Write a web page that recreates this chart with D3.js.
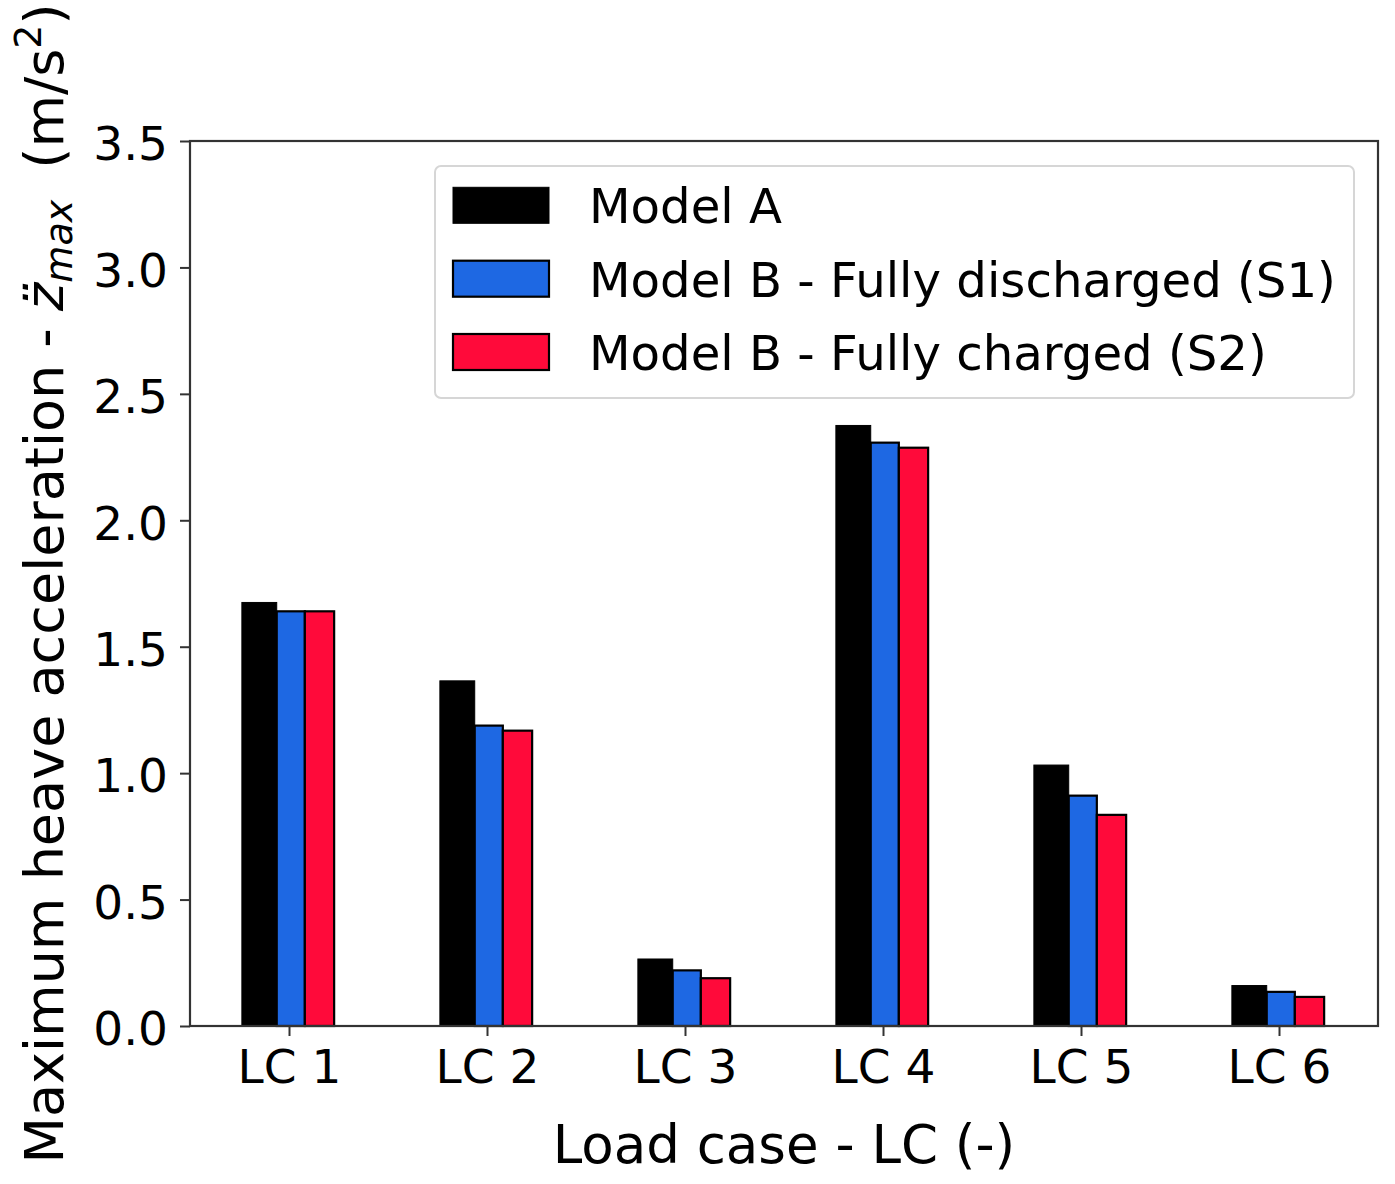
<!DOCTYPE html>
<html>
<head>
<meta charset="utf-8">
<script src="https://cdn.jsdelivr.net/npm/d3@7"></script>
<style>
  html, body { margin: 0; padding: 0; background: #fff; }
  svg { display: block; }
  text { font-family: "DejaVu Sans", sans-serif; fill: #000; }
</style>
</head>
<body>
<svg id="chart" width="1395" height="1184"></svg>
<script>
// ---- data ----
const categories = ["LC 1", "LC 2", "LC 3", "LC 4", "LC 5", "LC 6"];
const seriesNames = ["Model A", "Model B - Fully discharged (S1)", "Model B - Fully charged (S2)"];
const modelA = [1.675, 1.365, 0.265, 2.375, 1.032, 0.160];
const modelB_S1 = [1.640, 1.188, 0.220, 2.307, 0.911, 0.135];
const modelB_S2 = [1.640, 1.168, 0.189, 2.287, 0.835, 0.115];
const yTicks = [0.0, 0.5, 1.0, 1.5, 2.0, 2.5, 3.0, 3.5];

// ---- styles / layout ----
const colors = ["#000000", "#1e68e3", "#ff0a3a"];
// bar extents relative to category centre, in category units
const barSpans = [[-0.238, -0.062], [-0.062, 0.080], [0.080, 0.228]];

const svg = d3.select("#chart");
const pL = 190, pR = 1378, pT = 141, pB = 1026;

const x = d3.scaleLinear().domain([-0.5, categories.length - 0.5]).range([pL, pR]);
const y = d3.scaleLinear().domain([0, 3.5]).range([pB, pT]);

const series = [modelA, modelB_S1, modelB_S2];

// bars
series.forEach((vals, si) => {
  svg.append("g").selectAll("rect")
    .data(vals)
    .join("rect")
    .attr("x", (d, i) => x(i + barSpans[si][0]))
    .attr("width", (d, i) => x(i + barSpans[si][1]) - x(i + barSpans[si][0]))
    .attr("y", d => y(d))
    .attr("height", d => y(0) - y(d))
    .attr("fill", colors[si])
    .attr("stroke", "#000")
    .attr("stroke-width", si === 0 ? 1 : 2.2);
});

// axes
const xAxis = d3.axisBottom(x)
  .tickValues(d3.range(categories.length))
  .tickFormat(i => categories[i])
  .tickSize(10).tickPadding(14);
const yAxis = d3.axisLeft(y)
  .tickValues(yTicks)
  .tickFormat(d3.format(".1f"))
  .tickSize(10).tickPadding(12);

const gx = svg.append("g").attr("transform", `translate(0,${pB})`).call(xAxis);
const gy = svg.append("g").attr("transform", `translate(${pL},0)`).call(yAxis);
[gx, gy].forEach(g => {
  g.select(".domain").remove();
  g.selectAll(".tick line").attr("stroke", "#333").attr("stroke-width", 2);
  g.selectAll(".tick text").style("font-size", "47px").attr("fill", "#000");
});
gx.selectAll(".tick text").attr("dy", "0.71em");
gy.selectAll(".tick text").attr("dy", "0.40em");

// frame
svg.append("rect")
  .attr("x", pL).attr("y", pT)
  .attr("width", pR - pL).attr("height", pB - pT)
  .attr("fill", "none").attr("stroke", "#333").attr("stroke-width", 2.2);

// axis labels
svg.append("text")
  .attr("x", (pL + pR) / 2).attr("y", 1163)
  .attr("text-anchor", "middle")
  .style("font-size", "53px")
  .text("Load case - LC (-)");

const yl = svg.append("text")
  .attr("transform", `translate(63,${(pT + pB) / 2}) rotate(-90)`)
  .attr("text-anchor", "middle")
  .style("font-size", "54px");
yl.append("tspan").text("Maximum heave acceleration - ");
yl.append("tspan").style("font-style", "italic").text("z\u0308");
yl.append("tspan").style("font-style", "italic").style("font-size", "38px").attr("dy", 9).text("max");
yl.append("tspan").attr("dy", -9).attr("dx", 14).text(" (m/s");
yl.append("tspan").style("font-size", "38px").attr("dy", -22).text("2");
yl.append("tspan").attr("dy", 22).text(")");

// legend
const lg = svg.append("g");
lg.append("rect")
  .attr("x", 435).attr("y", 166)
  .attr("width", 919).attr("height", 232)
  .attr("rx", 6).attr("ry", 6)
  .attr("fill", "#fff").attr("fill-opacity", 0.8)
  .attr("stroke", "#d6d6d6").attr("stroke-width", 2);

const rowBase = [223.3, 296.7, 370];
seriesNames.forEach((name, i) => {
  lg.append("rect")
    .attr("x", 453).attr("y", rowBase[i] - 36)
    .attr("width", 96).attr("height", 36)
    .attr("fill", colors[i])
    .attr("stroke", "#000").attr("stroke-width", i === 0 ? 1 : 2.2);
  lg.append("text")
    .attr("x", 589).attr("y", rowBase[i])
    .style("font-size", "48.2px")
    .text(name);
});
</script>
</body>
</html>
